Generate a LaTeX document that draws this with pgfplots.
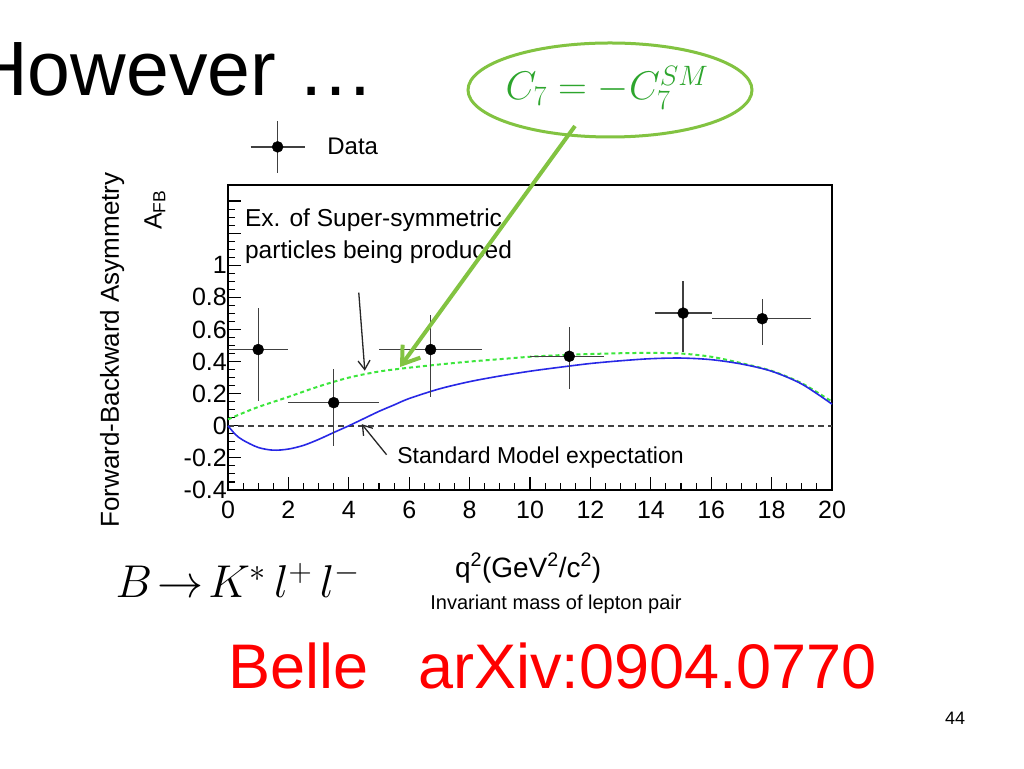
\RequirePackage{fix-cm}
\documentclass[border=0pt]{standalone}
\usepackage{fontspec}
\setmainfont{Liberation Sans}
\usepackage{pgfplots}
\pgfplotsset{compat=1.18}
\usetikzlibrary{arrows.meta}

\definecolor{smblue}{RGB}{40,40,230}
\definecolor{susy}{RGB}{60,230,60}
\definecolor{callout}{RGB}{130,195,65}
\definecolor{ctext}{RGB}{45,165,45}
\newcommand{\fs}[1]{\fontsize{#1}{#1}\selectfont}

\begin{document}
\begin{tikzpicture}[x=1pt,y=1pt]
\fill[white] (0,0) rectangle (1024,768);
\useasboundingbox (0,0) rectangle (1024,768);

\begin{axis}[
	at={(228pt,278pt)}, anchor=south west,
	scale only axis, width=604pt, height=305pt,
	xmin=0, xmax=20, ymin=-0.4, ymax=1.5,
	axis line style={line width=1.7pt},
	tick align=inside, xtick pos=bottom, ytick pos=left,
	xtick={0,2,4,6,8,10,12,14,16,18,20},
	ytick={-0.4,-0.2,0,0.2,0.4,0.6,0.8,1,1.2,1.4},
	yticklabels={-0.4,-0.2,0,0.2,0.4,0.6,0.8,1,,},
	minor x tick num=3, minor y tick num=3,
	major tick length=13pt, minor tick length=7pt,
	every tick/.style={black, line width=1.1pt},
	tick label style={font=\fs{25}},
	/pgf/number format/assume math mode=true,
	yticklabel style={inner sep=1pt},
	xticklabel style={inner sep=1pt, yshift=-10pt},
	clip=false,
	legend style={at={(axis description cs:0.036,1.125)}, anchor=west,
		draw=none, fill=none, font=\fs{24}, inner sep=0pt},
	legend image code/.code={
		\draw[black!75, line width=1.4pt] (0pt,0pt) -- (54pt,0pt);
		\draw[black!75, line width=1.4pt] (27pt,-26pt) -- (27pt,26pt);
		\fill[black] (27pt,0pt) circle (5.5pt);
	},
]
% SM zero line
\addplot[black!75, line width=1.6pt, dash pattern=on 6pt off 4pt, forget plot]
	coordinates {(0,0) (20,0)};
% C7 = -C7^SM
\addplot[susy, line width=2pt, dash pattern=on 4pt off 3pt, smooth, forget plot] coordinates {
	(0,0.04) (0.5,0.08) (1,0.117) (2,0.18) (3,0.245) (4,0.3) (5,0.338) (6,0.362)
	(7,0.382) (8,0.4) (9,0.415) (10,0.43) (11,0.44) (12,0.447) (13,0.452)
	(14,0.454) (15,0.45) (16,0.43) (17,0.39) (18,0.342) (19,0.265) (20,0.15)};
% Standard Model
\addplot[smblue, line width=1.6pt, smooth, forget plot] coordinates {
	(0,0) (0.25,-0.055) (0.5,-0.09) (1,-0.135) (1.5,-0.152) (2,-0.145) (2.5,-0.122)
	(3,-0.085) (3.5,-0.042) (4,0) (4.5,0.045) (5,0.09) (5.5,0.13) (6,0.17)
	(7,0.23) (8,0.275) (9,0.31) (10,0.34) (11,0.365) (12,0.388) (13,0.405)
	(14,0.418) (15,0.422) (16,0.412) (17,0.385) (18,0.34) (19,0.26) (20,0.135)};
% Belle data
\addplot[only marks, mark=*, mark size=5.5pt, black,
	error bars/.cd, x dir=both, x explicit, y dir=both, y explicit,
	error mark=none, error bar style={line width=1.4pt, black!75}]
	coordinates {
	(1.0,0.475)   += (1.0,0.258)  -= (1.0,0.32)
	(3.5,0.144)   += (1.5,0.212)  -= (1.5,0.272)
	(6.71,0.475)  += (1.71,0.213) -= (1.72,0.295)
	(11.3,0.433)  += (1.16,0.182) -= (1.3,0.204)
	(15.07,0.702) += (0.96,0.198) -= (0.93,0.244)
	(17.69,0.667) += (1.62,0.12)  -= (1.66,0.163)
	};
\addlegendentry{\hspace*{20pt}Data}

\draw[-{Straight Barb[length=9pt,width=12pt]}, line width=1.3pt, black!85]
	(axis cs:4.33,0.83) -- (axis cs:4.53,0.343);
\draw[-{Straight Barb[length=9pt,width=12pt]}, line width=1.3pt, black!85]
	(axis cs:5.25,-0.18) -- (axis cs:4.43,0.01);
\node[anchor=base west, inner sep=0, font=\fs{24.5}] at (axis cs:0.56,1.239) {Ex. of Super-symmetric};
\node[anchor=base west, inner sep=0, font=\fs{24.5}] at (axis cs:0.56,1.039) {particles being produced};
\node[anchor=base west, inner sep=0, font=\fs{23}] at (axis cs:5.6,-0.233) {Standard Model expectation};

\node[rotate=90, font=\fs{26}] at (axis description cs:-0.192,0.459) {Forward-Backward Asymmetry};
\node[rotate=90, font=\fs{25}] at (axis description cs:-0.121,0.918) {A\textsubscript{FB}};
\node[font=\fs{28}] at (axis description cs:0.497,-0.256) {q\textsuperscript{2}(GeV\textsuperscript{2}/c\textsuperscript{2})};
\node[font=\fs{20}] at (axis description cs:0.543,-0.374) {Invariant mass of lepton pair};
\end{axis}

\node[anchor=base west, inner sep=0, font=\fs{77}] at (-28,672) {However …};
\draw[callout, line width=3pt] (610,678) ellipse [x radius=142pt, y radius=47pt];
\node[ctext, font=\fs{40}] at (607,680) {$C_7=-C_7^{SM}$};
\draw[callout, line width=4pt, -{Straight Barb[length=16pt,width=22pt]}] (575,642) -- (400,401);
\node[anchor=west, font=\fs{46}] at (112,188) {$B\!\rightarrow\! K^{*}\,l^{+}\,l^{-}$};
\node[anchor=base west, inner sep=0, red, font=\fs{63}] at (228,80) {Belle\hspace{50pt}arXiv:0904.0770};
\node[font=\fs{18}] at (955,50) {44};
\end{tikzpicture}
\end{document}
